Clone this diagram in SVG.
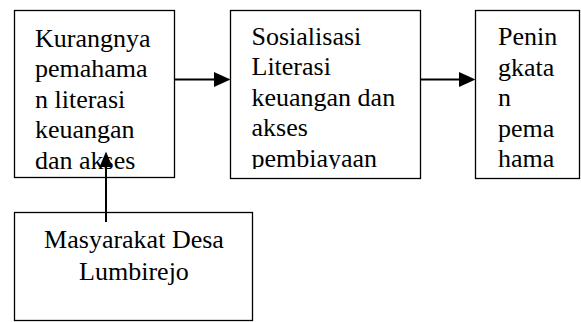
<svg xmlns="http://www.w3.org/2000/svg" width="581" height="322" viewBox="0 0 581 322">
<style>
.box{fill:#fff;stroke:#000;stroke-width:1.3}
.t{font-family:'Liberation Serif','Times New Roman',serif;font-size:26px;fill:#000}
.c{text-anchor:middle}
.ln{stroke:#000;stroke-width:2;fill:none}
.ah{fill:#000}
</style>
<defs>
<clipPath id="cp1"><rect x="14" y="10" width="160" height="160"/></clipPath>
<clipPath id="cp2"><rect x="230" y="10" width="190" height="159"/></clipPath>
</defs>
<rect width="581" height="322" fill="#fff"/>
<g id="node-kurangnya">
<rect class="box" x="14.5" y="10.5" width="160" height="167"/>
<g clip-path="url(#cp1)">
<text class="t"><tspan x="35" y="46.5">Kurangnya</tspan><tspan x="35" y="77">pemahama</tspan><tspan x="35" y="107.5">n literasi</tspan><tspan x="35" y="138">keuangan</tspan><tspan x="35" y="168.5">dan akses</tspan></text>
</g>
</g>
<g id="node-sosialisasi">
<rect class="box" x="230.5" y="10.5" width="190" height="168"/>
<g clip-path="url(#cp2)">
<text class="t"><tspan x="251.5" y="44.5">Sosialisasi</tspan><tspan x="251.5" y="75">Literasi</tspan><tspan x="251.5" y="105.5">keuangan dan</tspan><tspan x="251.5" y="136">akses</tspan><tspan x="251.5" y="166.5">pembiayaan</tspan></text>
</g>
</g>
<g id="node-peningkatan">
<rect class="box" x="475.5" y="10.5" width="104" height="168"/>
<text class="t"><tspan x="498" y="45">Penin</tspan><tspan x="498" y="75.5">gkata</tspan><tspan x="498" y="106">n</tspan><tspan x="498" y="136.5">pema</tspan><tspan x="498" y="167">hama</tspan></text>
</g>
<g id="node-masyarakat">
<rect class="box" x="14.5" y="212.5" width="238" height="108"/>
<text class="t c"><tspan x="134" y="248.3">Masyarakat Desa</tspan><tspan x="134" y="279.5">Lumbirejo</tspan></text>
</g>
<g id="connectors">
<line class="ln" x1="174" y1="79.5" x2="216" y2="79.5"/>
<polygon class="ah" points="214,72 230.5,79.5 214,87"/>
<line class="ln" x1="420" y1="79.5" x2="461" y2="79.5"/>
<polygon class="ah" points="459,72 475.5,79.5 459,87"/>
<line class="ln" x1="106" y1="222" x2="106" y2="164"/>
<polygon class="ah" points="99.5,167 106,151.5 112.5,167"/>
</g>
</svg>
